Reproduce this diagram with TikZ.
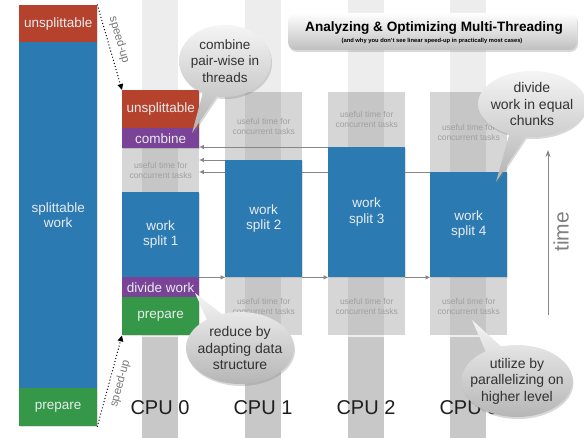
\documentclass[tikz,border=0pt]{standalone}
\usepackage{fontspec}
\setmainfont{Liberation Sans}
\usetikzlibrary{shapes.callouts,shadows,arrows.meta}
\definecolor{cred}{RGB}{181,66,45}
\definecolor{cblue}{RGB}{44,122,178}
\definecolor{cpurple}{RGB}{122,67,152}
\definecolor{cgreen}{RGB}{52,152,72}
\definecolor{btext}{RGB}{232,236,238}
\definecolor{gtext}{RGB}{160,160,160}
\definecolor{stripe}{RGB}{237,237,237}
\definecolor{stripedk}{RGB}{200,200,200}
\definecolor{arrowgrey}{RGB}{135,135,135}
\definecolor{bubtext}{RGB}{50,50,50}
\definecolor{speedgrey}{RGB}{120,120,120}
\begin{document}
\begin{tikzpicture}[x=1pt,y=-1pt,
  colbox/.style={anchor=north west, minimum width=77pt, inner sep=0pt, align=center,
    text=btext, font=\fontsize{13.5}{15.5}\selectfont,
    drop shadow={opacity=0.25,shadow xshift=0.8pt,shadow yshift=-0.8pt}},
  leftbox/.style={colbox, minimum width=78pt},
  greybox/.style={anchor=north west, minimum width=77pt, inner sep=0pt, align=center,
    fill=black, fill opacity=0.16, text opacity=1, text=gtext,
    font=\fontsize{8.5}{10}\selectfont},
  harrow/.style={draw=arrowgrey, line width=0.9pt, -{Triangle[length=4.5pt,width=4pt]}},
  speedarrow/.style={draw=black, line width=1.4pt, line cap=round, dash pattern=on 0pt off 3.2pt,
    -{Triangle[length=6pt,width=5.5pt]}},
  speedlabel/.style={text=speedgrey, font=\fontsize{11.5}{12}\selectfont, sloped, inner sep=1pt},
  cpulabel/.style={text=black!88, font=\fontsize{20}{22}\selectfont},
  bubble/.style={ellipse callout, inner sep=0pt, draw=none,
    top color=black!4, bottom color=black!30, callout pointer arc=18,
    drop shadow={opacity=0.3,shadow xshift=1pt,shadow yshift=-2pt}},
  bubtxt/.style={text=bubtext, align=center, inner sep=0pt},
  titlebox/.style={rounded corners=8pt, minimum width=289pt, minimum height=37pt,
    top color=white, bottom color=black!25, draw=none,
    drop shadow={opacity=0.3,shadow xshift=1pt,shadow yshift=-2pt}}
]
\useasboundingbox (0,0) rectangle (584,438);
\fill[white] (0,0) rectangle (584,438);

% lane stripes
\foreach \L in {122,225,328,430}{
  \fill[stripe] (\L+20,0) rectangle (\L+56,337);
  \fill[stripedk] (\L+20,337) rectangle (\L+56,438);
}

% left bar
\node[leftbox, fill=cred, minimum height=37pt] (lred) at (19,5) {unsplittable};
\node[leftbox, fill=cblue, minimum height=346pt] (lblue) at (19,42) {splittable\\work};
\node[leftbox, fill=cgreen, minimum height=38pt] (lgreen) at (19,388) {prepare};

% CPU 0
\node[colbox, fill=cred, minimum height=38pt] (c0red) at (122,90) {unsplittable};
\node[colbox, fill=cpurple, minimum height=20pt] (c0comb) at (122,128) {combine};
\node[greybox, minimum height=44pt] (c0g) at (122,148) {useful time for\\concurrent tasks};
\node[colbox, fill=cblue, minimum height=85pt] (w1) at (122,192) {work\\split 1};
\node[colbox, fill=cpurple, minimum height=20pt] (c0div) at (122,277) {divide work};
\node[colbox, fill=cgreen, minimum height=38pt] (c0prep) at (122,297) {prepare};

% grey boxes of CPUs 1-3
\node[greybox, minimum height=68pt] (c1gt) at (225,92) {useful time for\\concurrent tasks};
\node[greybox, minimum height=55pt] (c2gt) at (328,92) {useful time for\\concurrent tasks};
\node[greybox, minimum height=80pt] (c3gt) at (430,92) {useful time for\\concurrent tasks};
\node[greybox, minimum height=58pt] (c1gb) at (225,277) {useful time for\\concurrent tasks};
\node[greybox, minimum height=58pt] (c2gb) at (328,277) {useful time for\\concurrent tasks};
\node[greybox, minimum height=58pt] (c3gb) at (430,277) {useful time for\\concurrent tasks};

% arrows behind the work blocks
\coordinate (a3) at (328,147);
\coordinate (a2) at (225,160);
\coordinate (a4) at (430,172);
\draw[harrow] (a3) -- (a3 -| c0g.east);
\draw[harrow] (a2) -- (a2 -| c0g.east);
\draw[harrow] (a4) -- (a4 -| c0g.east);

% work splits
\node[colbox, fill=cblue, minimum height=117pt] (w2) at (225,160) {work\\split 2};
\node[colbox, fill=cblue, minimum height=130pt] (w3) at (328,147) {work\\split 3};
\node[colbox, fill=cblue, minimum height=105pt] (w4) at (430,172) {work\\split 4};

\draw[harrow] (w1.south east) -- (w2.south west);
\draw[harrow] (w2.south east) -- (w3.south west);
\draw[harrow] (w3.south east) -- (w4.south west);

% speed-up arrows
\draw[speedarrow] (lred.north east) -- node[speedlabel, pos=0.45, above=4pt] (su1) {speed-up} (c0red.north west);
\draw[speedarrow] (lgreen.south east) -- node[speedlabel, pos=0.5, below=4pt] (su2) {speed-up} (c0prep.south west);

% time axis
\coordinate (tbot) at (548,315);
\coordinate (ttop) at (548,150);
\draw[draw=arrowgrey, line width=1pt, -{Stealth[length=7pt,width=5pt]}] (tbot) -- (ttop);
\node[rotate=90, text=black!50, font=\fontsize{21}{21}\selectfont] (timel) at (561,232) {time};

% CPU labels
\node[cpulabel] (cpu0) at (160,408) {CPU 0};
\node[cpulabel] (cpu1) at (263,408) {CPU 1};
\node[cpulabel] (cpu2) at (366,408) {CPU 2};
\node[cpulabel] (cpu3) at (469,408) {CPU 3};

% speech bubbles
\node[bubble, minimum width=92pt, minimum height=72pt, callout absolute pointer={(192,133)}] (b1) at (225,61) {};
\node[bubtxt, font=\fontsize{13.5}{16.5}\selectfont] (b1t) at (b1.center) {combine\\pair-wise in\\threads};

\node[bubble, minimum width=108pt, minimum height=66pt, callout absolute pointer={(496,182)}] (b2) at (532,104) {};
\node[bubtxt, font=\fontsize{14}{16.5}\selectfont] (b2t) at (b2.center) {divide\\work in equal\\chunks};

\node[bubble, minimum width=108pt, minimum height=72pt, callout absolute pointer={(195,293)}] (b3) at (240,348) {};
\node[bubtxt, font=\fontsize{14}{16.5}\selectfont] (b3t) at (b3.center) {reduce by\\adapting data\\structure};

\node[bubble, minimum width=111pt, minimum height=72pt, callout absolute pointer={(472,320)}] (b4) at (517,381) {};
\node[bubtxt, font=\fontsize{14}{16.5}\selectfont] (b4t) at (b4.center) {utilize by\\parallelizing on\\higher level};

% title
\node[titlebox] (title) at (432.5,31.5) {};
\node[font=\bfseries\fontsize{13.6}{15}\selectfont, inner sep=0pt] (t1) at (434,28) {Analyzing \& Optimizing Multi-Threading};
\node[font=\bfseries\fontsize{5.8}{7}\selectfont, inner sep=0pt] (t2) at (432,41) {(and why you don't see linear speed-up in practically most cases)};
\end{tikzpicture}
\end{document}
